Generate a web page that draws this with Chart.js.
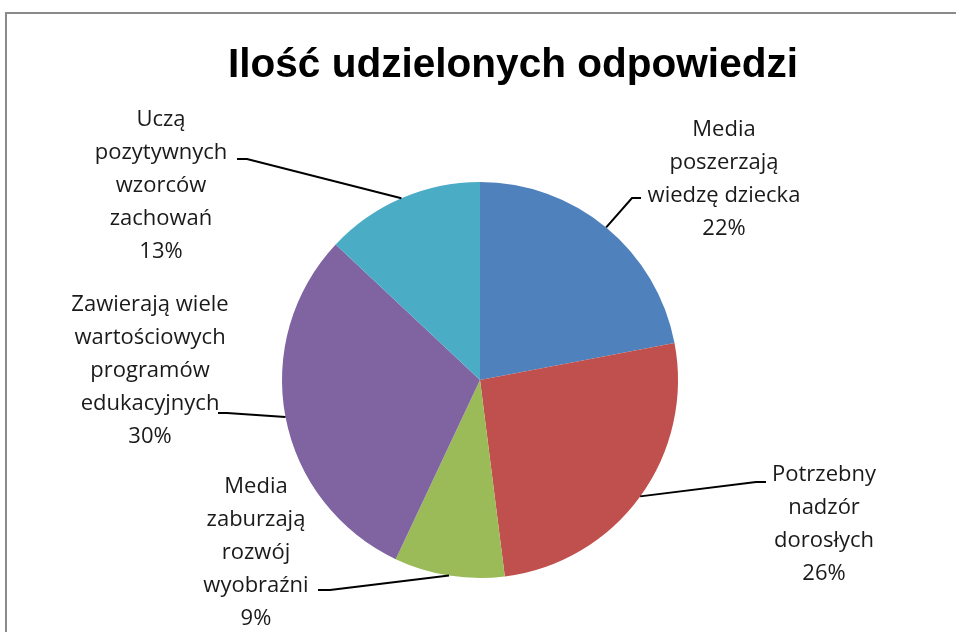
<!DOCTYPE html>
<html>
<head>
<meta charset="utf-8">
<script src="https://cdn.jsdelivr.net/npm/chart.js@4/dist/chart.umd.min.js"></script>
<style>
  html, body { margin: 0; padding: 0; background: #fff; overflow: hidden; }
  #wrap { position: relative; width: 956px; height: 632px; }
  #frame { position: absolute; left: 5px; top: 12px; width: 1000px; height: 700px; border: 2px solid #8a8a8a; box-sizing: border-box; }
  #c { position: absolute; left: 0; top: 0; }
</style>
</head>
<body>
<div id="wrap">
  <div id="frame"></div>
  <canvas id="c" width="956" height="632"></canvas>
</div>
<script>
// dane
const title = "Ilość udzielonych odpowiedzi";
const categories = [
  ["Media", "poszerzają", "wiedzę dziecka"],
  ["Potrzebny", "nadzór", "dorosłych"],
  ["Media", "zaburzają", "rozwój", "wyobraźni"],
  ["Zawierają wiele", "wartościowych", "programów", "edukacyjnych"],
  ["Uczą", "pozytywnych", "wzorców", "zachowań"]
];
const values = [22, 26, 9, 30, 13];
const colors = ["#4F81BD", "#C0504D", "#9BBB59", "#8064A2", "#4BACC6"];

// pozycje etykiet (środek tekstu, kolanko linii, koniec linii)
const labelPos = [
  { x: 724, y: 130, elbow: [632, 198], end: [641, 198] },
  { x: 824, y: 475, elbow: [756, 482], end: [766, 482] },
  { x: 256, y: 487, elbow: [330, 590], end: [318, 590] },
  { x: 150, y: 305, elbow: [227, 413], end: [218, 413] },
  { x: 161, y: 120, elbow: [247, 159], end: [237, 159] }
];
const lineH = 33;

// tytuł rysowany ręcznie, dopasowany do szerokości ~570px
const titlePlugin = {
  id: "bigTitle",
  afterDraw(chart) {
    const ctx = chart.ctx;
    ctx.save();
    ctx.font = "bold 40px 'Liberation Sans', Arial, sans-serif";
    ctx.fillStyle = "#000";
    ctx.textAlign = "center";
    ctx.textBaseline = "alphabetic";
    const w = ctx.measureText(title).width;
    ctx.translate(513, 77);
    ctx.scale(570 / w, 1);
    ctx.fillText(title, 0, 0);
    ctx.restore();
  }
};

const outsideLabels = {
  id: "outsideLabels",
  afterDatasetsDraw(chart) {
    const ctx = chart.ctx;
    const meta = chart.getDatasetMeta(0);
    const total = values.reduce((a, b) => a + b, 0);
    ctx.save();
    meta.data.forEach((arc, i) => {
      const p = arc.getProps(["x", "y", "startAngle", "endAngle", "outerRadius"], true);
      const mid = (p.startAngle + p.endAngle) / 2;
      const sx = p.x + Math.cos(mid) * p.outerRadius;
      const sy = p.y + Math.sin(mid) * p.outerRadius;
      const L = labelPos[i];
      ctx.strokeStyle = "#000";
      ctx.lineWidth = 2;
      ctx.beginPath();
      ctx.moveTo(sx, sy);
      ctx.lineTo(L.elbow[0], L.elbow[1]);
      ctx.lineTo(L.end[0], L.end[1]);
      ctx.stroke();

      const lines = categories[i].concat([Math.round(values[i] / total * 100) + "%"]);
      ctx.fillStyle = "#1a1a1a";
      ctx.font = "22px 'Open Sans'";
      ctx.textAlign = "center";
      ctx.textBaseline = "middle";
      lines.forEach((t, k) => ctx.fillText(t, L.x, L.y + k * lineH));
    });
    ctx.restore();
  }
};

new Chart(document.getElementById("c"), {
  type: "pie",
  data: {
    labels: categories.map(c => c.join(" ")),
    datasets: [{
      data: values,
      backgroundColor: colors,
      borderWidth: 0,
      hoverOffset: 0
    }]
  },
  options: {
    responsive: false,
    animation: false,
    layout: { padding: { top: 182, left: 282, right: 278, bottom: 54 } },
    plugins: {
      legend: { display: false },
      tooltip: { enabled: false },
      title: { display: false }
    }
  },
  plugins: [outsideLabels, titlePlugin]
});
</script>
</body>
</html>
